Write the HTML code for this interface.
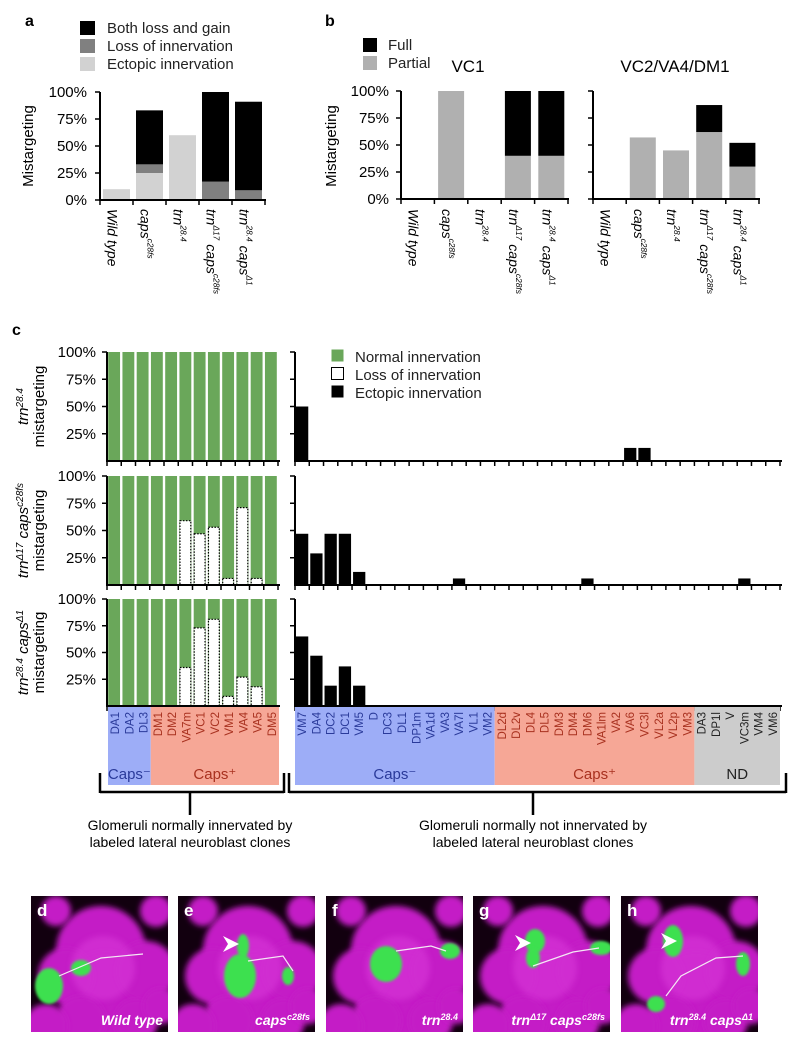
<!DOCTYPE html>
<html><head><meta charset="utf-8"><style>
html,body{margin:0;padding:0;background:#fff}
svg{display:block;font-family:"Liberation Sans",Arial,sans-serif}
</style></head><body>
<svg id="fig" width="800" height="1049" viewBox="0 0 800 1049" xmlns="http://www.w3.org/2000/svg">
<defs>
<filter id="blur3" x="-50%" y="-50%" width="200%" height="200%"><feGaussianBlur stdDeviation="3"/></filter>
<filter id="blur1" x="-50%" y="-50%" width="200%" height="200%"><feGaussianBlur stdDeviation="1.2"/></filter>
<clipPath id="imgclip"><rect x="0" y="0" width="137" height="136"/></clipPath>
</defs>
<g id="root"></g>
</svg>
<script>
// ---------- data ----------
const aCats = [["Wild type",""],["caps","c28fs"],["trn","28.4"],["trn","Δ17","caps","c28fs"],["trn","28.4","caps","Δ1"]];
const aEctopic = [10,25,60,0,0];
const aLoss = [0,8,0,17,9];
const aBoth = [0,50,0,83,82];
const bVC1Partial = [0,100,0,40,40];
const bVC1Full = [0,0,0,60,60];
const bVC2Partial = [0,57,45,62,30];
const bVC2Full = [0,0,0,25,22];
const yTicks = [0,25,50,75,100];
const cLeftCats = ["DA1","DA2","DL3","DM1","DM2","VA7m","VC1","VC2","VM1","VA4","VA5","DM5"];
const cLeftLossRow1 = [0,0,0,0,0,0,0,0,0,0,0,0];
const cLeftLossRow2 = [0,0,0,0,0,59,47,53,6,71,6,0];
const cLeftLossRow3 = [0,0,0,0,0,36,73,81,9,27,18,0];
const cRightCats = ["VM7","DA4","DC2","DC1","VM5","D","DC3","DL1","DP1m","VA1d","VA3","VA7l","VL1","VM2",
 "DL2d","DL2v","DL4","DL5","DM3","DM4","DM6","VA1lm","VA2","VA6","VC3l","VL2a","VL2p","VM3",
 "DA3","DP1l","V","VC3m","VM4","VM6"];
const cRightRow1 = [50,0,0,0,0,0,0,0,0,0,0,0,0,0, 0,0,0,0,0,0,0,0,0,12,12,0,0,0, 0,0,0,0,0,0];
const cRightRow2 = [47,29,47,47,12,0,0,0,0,0,0,6,0,0, 0,0,0,0,0,0,6,0,0,0,0,0,0,0, 0,0,0,6,0,0];
const cRightRow3 = [65,47,19,37,19,0,0,0,0,0,0,0,0,0, 0,0,0,0,0,0,0,0,0,0,0,0,0,0, 0,0,0,0,0,0];
const cLeftGroups = [["Caps⁻",3],["Caps⁺",9]];
const cRightGroups = [["Caps⁻",14],["Caps⁺",14],["ND",6]];

// ---------- helpers ----------
const NS="http://www.w3.org/2000/svg";
const root=document.getElementById('root');
function mk(tag,attrs,parent){const e=document.createElementNS(NS,tag);for(const k in attrs)e.setAttribute(k,attrs[k]);(parent||root).appendChild(e);return e;}
function txt(s,attrs,parent){const e=mk('text',attrs,parent);e.textContent=s;return e;}
function line(x1,y1,x2,y2,w,parent){return mk('line',{x1,y1,x2,y2,stroke:'#000','stroke-width':w||1.5},parent);}
function scaleY(top,bot){return v=>bot-(bot-top)*v/100;}
function labelRot(parts,x,y,size,parent){
  const t=mk('text',{transform:`translate(${x},${y}) rotate(90)`,'font-size':size,'font-style':'italic','dominant-baseline':'middle'},parent);
  for(let i=0;i<parts.length;i++){
    if(!parts[i])continue;
    const sp=mk('tspan',{},t);
    if(i%2===1){sp.setAttribute('font-size',size*0.6);sp.setAttribute('baseline-shift','super');}
    else if(i>0){sp.setAttribute('dx',4);}
    sp.textContent=parts[i];
  }
  return t;
}

// ---------- panel a ----------
(function(){
const g=mk('g',{});


txt('a',{x:25,y:26,'font-size':16,'font-weight':'bold'},g);
const leg=[["Both loss and gain","#000"],["Loss of innervation","#808080"],["Ectopic innervation","#d2d2d2"]];
leg.forEach((l,i)=>{
  const le=mk('g',{},g);
  
  
  mk('rect',{x:80,y:21+i*18,width:15,height:14,fill:l[1]},le);
  txt(l[0],{x:107,y:33+i*18,'font-size':15,fill:'#222'},le);
});
const x0=100,x1=265,bw=(x1-x0)/aCats.length,y=scaleY(92,200);
txt('Mistargeting',{transform:'translate(33,146) rotate(-90)','font-size':15,'text-anchor':'middle'},g);
yTicks.forEach(v=>{line(x0-5,y(v),x0,y(v),1.5,g);
  const t=txt(v+'%',{x:87,y:y(v)+5,'font-size':15,'text-anchor':'end'},g);
  });
aCats.forEach((c,i)=>{
  const cx=x0+bw*(i+0.5),w=27;let acc=0;
  [[aEctopic[i],'#d2d2d2'],[aLoss[i],'#808080'],[aBoth[i],'#000']].forEach(s=>{
    if(s[0]<=0)return;
    const r=mk('rect',{x:cx-w/2,y:y(acc+s[0]),width:w,height:y(acc)-y(acc+s[0]),fill:s[1]},g);
    
    
    acc+=s[0];
  });
  labelRot(c,cx-5,209,14,g);
});
line(x0,92,x0,201,2,g);line(x0-1,200,x1+1,200,2,g);
for(let i=0;i<=aCats.length;i++)line(x0+bw*i,200,x0+bw*i,205,1.5,g);
})();

// ---------- panel b ----------
(function(){
const g=mk('g',{});


txt('b',{x:325,y:26,'font-size':16,'font-weight':'bold'},g);
[["Full","#000"],["Partial","#b0b0b0"]].forEach((l,i)=>{
  const le=mk('g',{},g);
  
  
  mk('rect',{x:363,y:38+i*18,width:14,height:14,fill:l[1]},le);
  txt(l[0],{x:388,y:50+i*18,'font-size':15,fill:'#222'},le);
});
txt('Mistargeting',{transform:'translate(336,146) rotate(-90)','font-size':15,'text-anchor':'middle'},g);
const y=scaleY(91,199);
function chart(x0,x1,part,full,title,tx,showLabels){
  const bw=(x1-x0)/5;
  txt(title,{x:tx,y:72,'font-size':17,'text-anchor':'middle'},g);
  yTicks.forEach(v=>{line(x0-5,y(v),x0,y(v),1.5,g);
    if(showLabels)txt(v+'%',{x:389,y:y(v)+5,'font-size':15,'text-anchor':'end'},g);});
  aCats.forEach((c,i)=>{
    const cx=x0+bw*(i+0.5),w=26;
    if(part[i]>0){const r=mk('rect',{x:cx-w/2,y:y(part[i]),width:w,height:y(0)-y(part[i]),fill:'#b0b0b0'},g);
      }
    if(full[i]>0){const r=mk('rect',{x:cx-w/2,y:y(part[i]+full[i]),width:w,height:y(part[i])-y(part[i]+full[i]),fill:'#000'},g);
      }
    labelRot(c,cx-5,209,14,g);
  });
  line(x0,91,x0,200,2,g);line(x0-1,199,x1+1,199,2,g);
  for(let i=0;i<=5;i++)line(x0+bw*i,199,x0+bw*i,204,1.5,g);
}
chart(401,568,bVC1Partial,bVC1Full,'VC1',468,true);
chart(593,759,bVC2Partial,bVC2Full,'VC2/VA4/DM1',675,false);
})();

// ---------- panel c ----------
(function(){
const g=mk('g',{});


txt('c',{x:12,y:335,'font-size':16,'font-weight':'bold'},g);
const rows=[[352,461,cLeftLossRow1,cRightRow1,["trn","28.4"]],[476,585,cLeftLossRow2,cRightRow2,["trn","Δ17"," caps","c28fs"]],[599,706,cLeftLossRow3,cRightRow3,["trn","28.4"," caps","Δ1"]]];
const lx0=107,lx1=278,lbw=(lx1-lx0)/cLeftCats.length;
const rx0=295,rx1=780,rbw=(rx1-rx0)/cRightCats.length;
rows.forEach((r,ri)=>{
  const y=scaleY(r[0],r[1]);
  const mid=(r[0]+r[1])/2;
  const t=mk('text',{transform:`translate(28,${mid}) rotate(-90)`,'font-size':15,'text-anchor':'middle','font-style':'italic'},g);
  r[4].forEach((p,i)=>{const sp=mk('tspan',{},t);if(i%2===1){sp.setAttribute('font-size',10);sp.setAttribute('baseline-shift','super');}sp.textContent=p;});
  txt('mistargeting',{transform:`translate(44,${mid}) rotate(-90)`,'font-size':15,'text-anchor':'middle'},g);
  [25,50,75,100].forEach(v=>{line(lx0-5,y(v),lx0,y(v),1.5,g);line(rx0-5,y(v),rx0,y(v),1.5,g);
    txt(v+'%',{x:96,y:y(v)+5,'font-size':15,'text-anchor':'end'},g);});
  cLeftCats.forEach((c,i)=>{
    const x=lx0+lbw*i+1.2,w=lbw-2.4,loss=r[2][i];
    const gr=mk('rect',{x,y:y(100),width:w,height:y(0)-y(100),fill:'#6aa75a'},g);
    
    if(loss>0){const lr=mk('rect',{x:x+0.5,y:y(loss),width:w-1,height:y(0)-y(loss),fill:'#fff',stroke:'#000','stroke-width':1.2,'stroke-dasharray':'1.5,1.5'},g);
      }
  });
  cRightCats.forEach((c,i)=>{
    const v=r[3][i];if(v<=0)return;
    const br=mk('rect',{x:rx0+rbw*i+1,y:y(v),width:rbw-2,height:y(0)-y(v),fill:'#000'},g);
    
  });
  line(lx0,r[0],lx0,r[1],2,g);line(lx0-1,r[1],lx1+2,r[1],2,g);
  line(rx0,r[0],rx0,r[1],2,g);line(rx0-1,r[1],rx1+2,r[1],2,g);
  for(let i=0;i<=cLeftCats.length;i++)line(lx0+lbw*i,r[1],lx0+lbw*i,r[1]+5,1.5,g);
  for(let i=0;i<=cRightCats.length;i++)line(rx0+rbw*i,r[1],rx0+rbw*i,r[1]+5,1.5,g);
});
[["Normal innervation","#6aa75a"],["Loss of innervation","#fff"],["Ectopic innervation","#000"]].forEach((l,i)=>{
  const le=mk('g',{},g);
  
  
  mk('rect',{x:331.5,y:349.5+i*18,width:12,height:12,fill:l[1],stroke:i==1?'#000':'none'},le);
  txt(l[0],{x:355,y:362+i*18,'font-size':15,fill:'#222'},le);
});
const cols={"Caps⁻":["#9dadf7","#2a3a9a"],"Caps⁺":["#f6a796","#a8311f"],"ND":["#cccccc","#222"]};
function bands(x0,bw,cats,groups){
  let i0=0;
  groups.forEach(gp=>{
    const c=cols[gp[0]];
    const b=mk('rect',{x:x0+bw*i0,y:707,width:bw*gp[1],height:78,fill:c[0]},g);
    
    txt(gp[0],{x:x0+bw*(i0+gp[1]/2),y:779,'font-size':15,'text-anchor':'middle',fill:c[1]},g);
    for(let k=i0;k<i0+gp[1];k++){
      const t=txt(cats[k],{transform:`translate(${x0+bw*(k+0.5)+4},712) rotate(-90)`,'font-size':11.5,'text-anchor':'end',fill:c[1]},g);
      
    }
    i0+=gp[1];
  });
}
bands(lx0+1,lbw,cLeftCats,cLeftGroups);
bands(rx0,rbw,cRightCats,cRightGroups);
function bracket(xa,xb,xs,l1,l2){
  line(xa,792,xb,792,2.5,g);line(xa,773,xa,793,2.5,g);line(xb,773,xb,793,2.5,g);line(xs,792,xs,815,2.5,g);
  txt(l1,{x:xs,y:830,'font-size':14,'text-anchor':'middle'},g);
  txt(l2,{x:xs,y:847,'font-size':14,'text-anchor':'middle'},g);
}
bracket(100,284,190,'Glomeruli normally innervated by','labeled lateral neuroblast clones');
bracket(289,786,533,'Glomeruli normally not innervated by','labeled lateral neuroblast clones');
})();

// ---------- image panels ----------
(function(){
const panels=[
 {x:31,letter:'d',label:[["Wild type",""]],green:[[18,90,14,18],[50,72,10,8],[150,55,9,8]],arrow:null,line:[[28,80],[70,62],[112,58]]},
 {x:178,letter:'e',label:[["caps","c28fs"]],green:[[65,50,6,12],[62,80,16,22],[110,80,6,9]],arrow:[45,48],line:[[70,65],[105,60],[115,75]]},
 {x:326,letter:'f',label:[["trn","28.4"]],green:[[60,68,16,18],[124,55,10,8]],arrow:null,line:[[70,55],[105,50],[120,55]]},
 {x:473,letter:'g',label:[["trn","Δ17"],[" caps","c28fs"]],green:[[62,45,10,12],[60,62,7,10],[128,52,11,7]],arrow:[42,47],line:[[60,70],[100,56],[126,52]]},
 {x:621,letter:'h',label:[["trn","28.4"],[" caps","Δ1"]],green:[[52,45,10,16],[35,108,9,8],[122,68,7,12]],arrow:[40,45],line:[[45,100],[60,80],[95,62],[122,60]]}
];
const blobs=[[70,55,45],[75,100,45],[35,80,28],[115,75,30],[50,125,25],[105,125,22],[15,130,22],[125,15,16],[25,15,15],[130,110,18]];
panels.forEach(p=>{
  const g=mk('g',{transform:`translate(${p.x},896)`});
  
  
  const cg=mk('g',{'clip-path':'url(#imgclip)'},g);
  mk('rect',{x:0,y:0,width:137,height:136,fill:'#12000f'},cg);
  blobs.forEach(b=>mk('circle',{cx:b[0],cy:b[1],r:b[2],fill:'#c41fc6',filter:'url(#blur3)'},cg));
  mk('circle',{cx:72,cy:72,r:32,fill:'#dc3cdc',opacity:0.5,filter:'url(#blur3)'},cg);
  p.green.forEach(b=>mk('ellipse',{cx:b[0],cy:b[1],rx:b[2],ry:b[3],fill:'#3ee050',filter:'url(#blur1)'},cg));
  mk('polyline',{points:p.line.map(q=>q.join(',')).join(' '),fill:'none',stroke:'#f4e8f4','stroke-width':1.2},cg);
  if(p.arrow){const a=p.arrow;mk('polygon',{points:`${a[0]},${a[1]-8} ${a[0]+16},${a[1]} ${a[0]},${a[1]+8} ${a[0]+5},${a[1]}`,fill:'#fff'},cg);}
  txt(p.letter,{x:6,y:20,'font-size':17,'font-weight':'bold',fill:'#fff'},cg);
  const t=mk('text',{x:132,y:129,'font-size':14,'font-weight':'bold','font-style':'italic',fill:'#fff','text-anchor':'end'},cg);
  p.label.forEach(l=>{const a=mk('tspan',{},t);a.textContent=l[0];
    if(l[1]){const b=mk('tspan',{'font-size':9,'baseline-shift':'super'},t);b.textContent=l[1];}});
});
})();
</script>
</body></html>
